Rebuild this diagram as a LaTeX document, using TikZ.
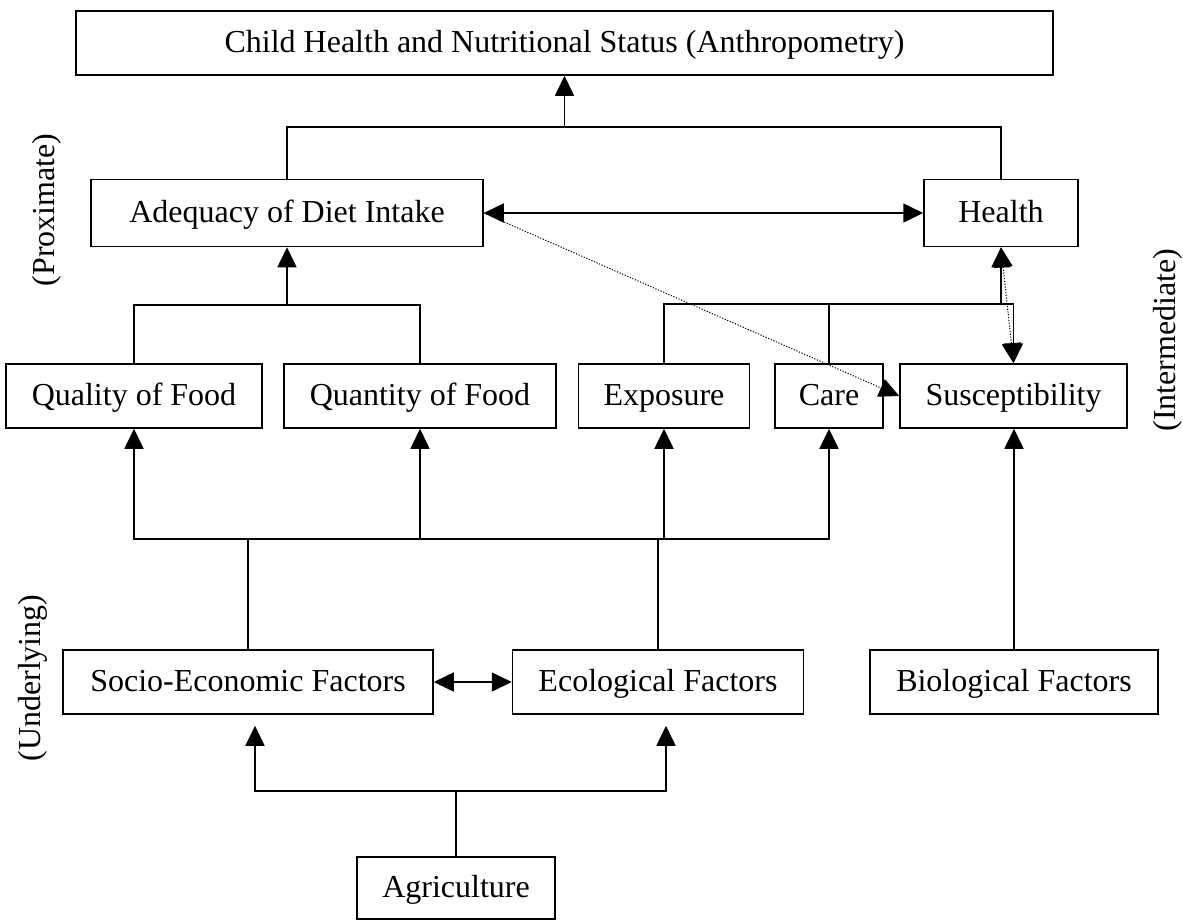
\documentclass[tikz,border=0pt]{standalone}
\usepackage{fontspec}
\setmainfont{Liberation Serif}
\usetikzlibrary{arrows.meta}
\begin{document}
\begin{tikzpicture}[x=1pt,y=-1pt,
 box/.style={draw,line width=1.5pt,inner sep=0pt,font=\fontsize{32}{38}\selectfont,text height=24pt,text depth=6pt,anchor=center},
 conn/.style={line width=1.6pt},
 arr/.style={conn,-{Triangle[length=20pt,width=19pt]}},
 darr/.style={conn,{Triangle[length=20pt,width=19pt]}-{Triangle[length=20pt,width=19pt]}},
 dotln/.style={line width=1pt,dash pattern=on 1.2pt off 1.6pt},
 side/.style={font=\fontsize{32}{38}\selectfont,rotate=90,inner sep=0pt}]
\useasboundingbox (0,0) rectangle (1183,921);

% nodes
\node[box,minimum width=977pt,minimum height=64pt] (top) at (564.5,43) {Child Health and Nutritional Status (Anthropometry)};
\node[box,minimum width=392pt,minimum height=67pt] (adeq) at (287,213) {Adequacy of Diet Intake};
\node[box,minimum width=154pt,minimum height=67pt] (health) at (1001,213) {Health};
\node[box,minimum width=256pt,minimum height=64pt] (qual) at (134,396) {Quality of Food};
\node[box,minimum width=272pt,minimum height=64pt] (quant) at (420,396) {Quantity of Food};
\node[box,minimum width=171pt,minimum height=64pt] (expo) at (664,396) {Exposure};
\node[box,minimum width=108pt,minimum height=64pt] (care) at (829,396) {Care};
\node[box,minimum width=227pt,minimum height=64pt] (susc) at (1013.5,396) {Susceptibility};
\node[box,minimum width=370pt,minimum height=64pt] (socio) at (248,682) {Socio-Economic Factors};
\node[box,minimum width=291pt,minimum height=64pt] (eco) at (658,682) {Ecological Factors};
\node[box,minimum width=288pt,minimum height=64pt] (bio) at (1014,682) {Biological Factors};
\node[box,minimum width=198pt,minimum height=62pt] (agri) at (456,888) {Agriculture};

\node[side] (prox) at (47,210) {(Proximate)};
\node[side] (under) at (33,678) {(Underlying)};
\node[side] (inter) at (1168,340) {(Intermediate)};

% top level
\coordinate (bartop) at (564.5,127);
\draw[conn] (adeq.north) |- (bartop) -| (health.north);
\draw[arr] (bartop) -- (top.south);
\draw[darr] (adeq.east) -- (health.west);

% food to adequacy
\coordinate (barq) at (287,305);
\draw[conn] (qual.north) -- (qual.north |- barq) -- (quant.north |- barq) -- (quant.north);
\draw[arr] (barq) -- (adeq.south);

% exposure, care, susceptibility to health
\coordinate (barh) at (1001,304);
\draw[arr] (expo.north) -- (expo.north |- barh) -- (susc.north |- barh) -- (susc.north);
\draw[conn] (care.north) -- (care.north |- barh);
\draw[arr] (barh) -- (health.south);

% dotted links
\draw[dotln,-{Triangle[length=20pt,width=19pt]}] (adeq.east) -- (susc.west);
\draw[dotln,{Triangle[length=20pt,width=19pt]}-{Triangle[length=20pt,width=19pt]}] (health.south) -- (susc.north);

% underlying to intermediate
\coordinate (barl) at (248,539);
\draw[arr] (care.south |- barl) -- (qual.south |- barl) -- (qual.south);
\draw[arr] (qual.south |- barl) -- (care.south |- barl) -- (care.south);
\foreach \n in {quant,expo} \draw[arr] (\n.south |- barl) -- (\n.south);
\draw[conn] (socio.north) -- (socio.north |- barl);
\draw[conn] (eco.north) -- (eco.north |- barl);
\draw[darr] (socio.east) -- (eco.west);

% biological
\draw[arr] (bio.north) -- (bio.north |- susc.south);

% agriculture
\coordinate (as) at (255,791);
\coordinate (ae) at (666,791);
\draw[conn] (agri.north) -- (agri.north |- as);
\draw[arr,shorten >=11pt] (ae) -- (as) -- (as |- socio.south);
\draw[arr,shorten >=11pt] (as) -- (ae) -- (ae |- eco.south);
\end{tikzpicture}
\end{document}
